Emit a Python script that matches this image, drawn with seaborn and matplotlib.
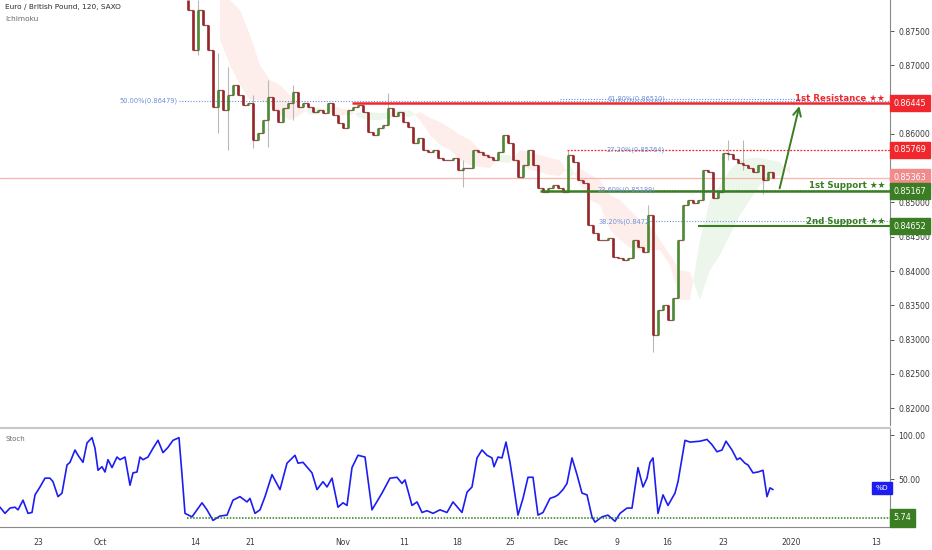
import matplotlib
matplotlib.use("Agg")
import matplotlib.pyplot as plt
import matplotlib.transforms as mtransforms
import numpy as np
import pandas as pd
import seaborn as sns

# ---- price (EUR/GBP 120 min, two samples per session) ----
FIRST_DAY = 18.8
STEP = 0.5
FIRST_OPEN = 0.8795
close = [
    0.8781, 0.8722, 0.8781, 0.8759, 0.8722, 0.8639, 0.8664, 0.8635, 0.8657, 0.8671,
    0.8657, 0.8642, 0.8645, 0.8591, 0.8601, 0.8620, 0.8654, 0.8635, 0.8617, 0.8638,
    0.8645, 0.8661, 0.8639, 0.8645, 0.8639, 0.8632, 0.8635, 0.8631, 0.8645, 0.8628,
    0.8616, 0.8609, 0.8635, 0.8639, 0.8642, 0.8632, 0.8603, 0.8598, 0.8609, 0.8613,
    0.8638, 0.8626, 0.8632, 0.8617, 0.8610, 0.8587, 0.8594, 0.8577, 0.8574, 0.8577,
    0.8565, 0.8562, 0.8562, 0.8565, 0.8547, 0.8550, 0.8550, 0.8577, 0.8574, 0.8569,
    0.8566, 0.8562, 0.8574, 0.8598, 0.8587, 0.8562, 0.8537, 0.8555, 0.8577, 0.8555,
    0.8521, 0.8515, 0.8521, 0.8526, 0.8521, 0.8515, 0.8569, 0.8559, 0.8533, 0.8528,
    0.8467, 0.8456, 0.8445, 0.8445, 0.8448, 0.8421, 0.8419, 0.8416, 0.8419, 0.8445,
    0.8435, 0.8428, 0.8482, 0.8307, 0.8343, 0.8351, 0.8329, 0.8361, 0.8445, 0.8496,
    0.8504, 0.8499, 0.8504, 0.8548, 0.8545, 0.8507, 0.8515, 0.8572, 0.8571, 0.8563,
    0.8558, 0.8555, 0.8550, 0.8544, 0.8555, 0.8533, 0.8544, 0.8536,
]

# notable wicks
wick_day = [19.8, 21.8, 22.8, 25.3, 26.8, 29.3, 38.8, 46.3, 56.8, 64.8, 65.3, 72.8, 74.3, 76.3]
wick_high = [0.8795, 0.8718, 0.8698, 0.8657, 0.8679, 0.8671, 0.8660, 0.8562, 0.8577, 0.8496, 0.8329, 0.8591, 0.8591, 0.8533]
wick_low = [0.8715, 0.8601, 0.8577, 0.8579, 0.8581, 0.8620, 0.8620, 0.8523, 0.8555, 0.8445, 0.8282, 0.8562, 0.8547, 0.8512]

# ichimoku cloud (senkou spans)
cloud_day = list(range(22, 80))
span_a = [
    0.87369, 0.87004, 0.86713, 0.86494, 0.86494, 0.86421, 0.86275, 0.86202, 0.86275, 0.86377,
    0.86377, 0.86319, 0.86275, 0.86275, 0.86319, 0.86319, 0.86304, 0.86319, 0.86348, 0.86348,
    0.86202, 0.85984, 0.85838, 0.85765, 0.85619, 0.85546, 0.85517, 0.85503, 0.85692, 0.85692,
    0.85546, 0.85473, 0.85444, 0.85401, 0.85386, 0.85546, 0.85255, 0.85036, 0.84963, 0.84598,
    0.84453, 0.84336, 0.84307, 0.84307, 0.84307, 0.84088, 0.83578, 0.83578, 0.84453, 0.85036,
    0.85255, 0.85473, 0.85619, 0.85648, 0.85648, 0.85619, 0.85590, 0.85401,
]
span_b = [
    0.87952, 0.87952, 0.87806, 0.87442, 0.87004, 0.86786, 0.86713, 0.86567, 0.86421, 0.86275,
    0.86290, 0.86421, 0.86377, 0.86348, 0.86232, 0.86202, 0.86202, 0.86232, 0.86261, 0.86246,
    0.86319, 0.86232, 0.86173, 0.86086, 0.85984, 0.85911, 0.85765, 0.85692, 0.85590, 0.85576,
    0.85765, 0.85736, 0.85692, 0.85648, 0.85619, 0.85357, 0.85503, 0.85401, 0.85328, 0.85109,
    0.85036, 0.84890, 0.84744, 0.84671, 0.84453, 0.84234, 0.84015, 0.83986, 0.83578, 0.84015,
    0.84234, 0.84526, 0.84817, 0.85036, 0.85255, 0.85328, 0.85401, 0.85546,
]

# ---- stochastic %D ----
stoch_day = [
    0.0, 0.5, 1.0, 1.5, 1.8, 2.3, 2.8, 3.2, 3.5, 4.0, 4.5, 5.0, 5.3, 5.8, 6.2, 6.7, 7.0, 7.5,
    7.8, 8.3, 8.7, 9.2, 9.5, 9.8, 10.2, 10.5, 10.8, 11.2, 11.7, 12.0, 12.5, 13.0, 13.3, 13.7,
    14.0, 14.3, 14.8, 15.3, 15.8, 16.3, 16.8, 17.3, 17.9, 18.2, 18.5, 19.2, 19.7, 20.2, 20.7,
    21.3, 22.0, 22.7, 23.3, 24.0, 24.7, 25.0, 25.5, 26.0, 26.5, 27.2, 28.0, 28.7, 29.5, 29.8,
    30.3, 31.2, 31.7, 32.3, 32.7, 33.2, 33.8, 34.3, 34.7, 35.2, 35.8, 36.5, 37.2, 38.2, 39.0,
    39.7, 40.2, 40.5, 41.2, 41.7, 42.2, 42.7, 43.3, 44.0, 44.7, 45.3, 46.2, 46.7, 47.2, 47.7,
    48.2, 48.7, 49.2, 49.4, 49.8, 50.2, 50.6, 51.0, 51.3, 51.8, 52.3, 52.8, 53.3, 53.8, 54.3,
    55.0, 55.5, 55.8, 56.3, 56.7, 57.2, 57.7, 58.2, 58.7, 59.2, 59.5, 60.2, 60.8, 61.5, 62.0,
    62.7, 63.2, 63.8, 64.3, 64.7, 65.0, 65.3, 65.8, 66.3, 66.8, 67.5, 67.8, 68.5, 69.0, 70.0,
    70.7, 71.2, 71.7, 72.2, 72.6, 73.2, 73.7, 74.0, 74.5, 74.8, 75.3, 75.8, 76.3, 76.7, 77.0,
    77.3,
]
stoch_d = [
    18, 11, 17, 18, 15, 26, 11, 12, 32, 41, 51, 51, 47, 30, 34, 66, 69, 83,
    77, 69, 91, 97, 85, 60, 64, 58, 72, 63, 75, 72, 75, 43, 57, 58,
    75, 72, 75, 85, 94, 80, 86, 94, 97, 55, 11, 7, 15, 23, 15,
    3, 8, 9, 26, 30, 24, 28, 11, 15, 30, 55, 38, 68, 77, 68,
    69, 57, 38, 47, 41, 51, 18, 23, 20, 63, 77, 75, 15, 34, 51,
    52, 45, 49, 20, 24, 12, 14, 11, 15, 12, 24, 12, 35, 41, 74,
    83, 77, 74, 64, 75, 74, 92, 69, 47, 9, 28, 52, 52, 9, 12,
    28, 30, 32, 38, 45, 74, 55, 34, 32, 7, 1, 7, 9, 2, 11,
    17, 17, 63, 41, 51, 69, 74, 11, 32, 20, 34, 47, 94, 92, 93,
    95, 89, 81, 83, 93, 83, 72, 74, 68, 66, 57, 58, 60, 30, 40,
    38,
]
STOCH_LOW = 5.74

tick_days = [3.8, 10.0, 19.5, 25.0, 34.3, 40.4, 45.7, 51.0, 56.1, 61.7, 66.7, 72.3, 79.1, 87.6]
tick_labels = ["23", "Oct", "14", "21", "Nov", "11", "18", "25", "Dec", "9", "16", "23", "2020", "13"]

# key levels
RESISTANCE = 0.86445
SUPPORT_1 = 0.85167
SUPPORT_2 = 0.84652
PREV_HIGH = 0.85769
LAST_PRICE = 0.85363

RED = "#f0282d"
GREEN = "#3a7d22"
FIB = "#6d8fd6"

sns.set_theme(style="white")
plt.rcParams["font.family"] = ["DejaVu Sans"]

fig = plt.figure(figsize=(9.32, 5.5), dpi=100)
ax = fig.add_axes([0, 125 / 550, 890 / 932, 425 / 550])
sax = fig.add_axes([0, 23 / 550, 890 / 932, 99 / 550])

XMAX = 89.0
ax.set_xlim(0, XMAX)
sax.set_xlim(0, XMAX)
ax.set_ylim(0.81756, 0.87952)
sax.set_ylim(-4.5, 108)

# cloud
ca = np.array(span_a)
cb = np.array(span_b)
ax.fill_between(cloud_day, ca, cb, where=ca >= cb, interpolate=True, color="#edf6eb", lw=0, zorder=1)
ax.fill_between(cloud_day, ca, cb, where=ca < cb, interpolate=True, color="#fdeeec", lw=0, zorder=1)

# candles
c = np.array(close)
o = np.r_[FIRST_OPEN, c[:-1]]
days = FIRST_DAY + STEP * np.arange(len(c))
candles = pd.DataFrame({"day": days, "open": o, "close": c})
candles["up"] = candles["close"] >= candles["open"]
ax.vlines(wick_day, wick_low, wick_high, color="#b8b8b8", lw=0.8, zorder=2)
ax.step(candles["day"], candles["close"], where="post", color="#7a2a26", lw=0.9, alpha=0.8, zorder=2)
ax.vlines(candles["day"], candles[["open", "close"]].min(axis=1), candles[["open", "close"]].max(axis=1),
          colors=np.where(candles["up"], "#4d8a35", "#96262a"), lw=1.9, zorder=3)

# levels
blend = mtransforms.blended_transform_factory(ax.transAxes, ax.transData)
ax.axhline(LAST_PRICE, color="#f7b5b0", lw=0.9, zorder=1)
ax.hlines(0.86479, 17.9, XMAX, color=FIB, lw=0.8, ls=(0, (1, 1.5)), zorder=2)
ax.hlines(0.86510, 56.0, 80.5, color=FIB, lw=0.8, ls=(0, (1, 1.5)), zorder=2)
ax.hlines(0.85189, 65.5, XMAX, color=FIB, lw=0.8, ls=(0, (1, 1.5)), zorder=2)
ax.hlines(0.84725, 65.0, XMAX, color=FIB, lw=0.8, ls=(0, (1, 1.5)), zorder=2)
ax.hlines(RESISTANCE, 35.2, XMAX, color=RED, lw=1.8, zorder=4)
ax.hlines(PREV_HIGH, 56.7, XMAX, color=RED, lw=0.9, ls=(0, (1.5, 1.2)), zorder=4)
ax.hlines(SUPPORT_1, 54.0, XMAX, color=GREEN, lw=1.8, zorder=4)
ax.hlines(SUPPORT_2, 69.8, XMAX, color=GREEN, lw=1.5, zorder=4)

fib_kw = dict(color=FIB, fontsize=4.8, va="center", ha="right", zorder=5)
ax.text(17.8, 0.86479, "50.00%(0.86479)", **fib_kw)
ax.text(66.5, 0.86510, "61.80%(0.86510)", **fib_kw)
ax.text(66.5, 0.85769, "27.20%(0.85764)", **fib_kw)
ax.text(65.5, 0.85189, "23.60%(0.85189)", **fib_kw)
ax.text(65.0, 0.84725, "38.20%(0.8472", **fib_kw)

lab_kw = dict(fontsize=6.2, fontweight="bold", ha="right", va="bottom", zorder=6)
ax.text(88.5, RESISTANCE + 0.0001, "1st Resistance ★★", color=RED, **lab_kw)
ax.text(88.5, SUPPORT_1 + 0.0001, "1st Support ★★", color=GREEN, **lab_kw)
ax.text(88.5, SUPPORT_2 + 0.0001, "2nd Support ★★", color=GREEN, **lab_kw)

ax.annotate("", xy=(80.0, RESISTANCE), xytext=(77.9, SUPPORT_1),
            arrowprops=dict(arrowstyle="->", color=GREEN, lw=1.4, mutation_scale=14), zorder=6)

# price axis
price_ticks = [0.82, 0.825, 0.83, 0.835, 0.84, 0.845, 0.85, 0.86, 0.87, 0.875]
ax.yaxis.tick_right()
ax.set_yticks(price_ticks)
ax.set_yticklabels([f"{t:.5f}" for t in price_ticks])
ax.tick_params(axis="y", labelsize=5.6, colors="#3a3a3a", length=3, width=0.6, pad=3)
ax.set_xticks([])
for side in ["left", "top", "bottom"]:
    ax.spines[side].set_visible(False)
ax.spines["right"].set_color("#8a8a8a")
ax.spines["right"].set_linewidth(0.8)

box_kw = dict(transform=blend, fontsize=5.8, color="white", va="center", ha="left", zorder=7)
for val, col in [(RESISTANCE, RED), (PREV_HIGH, RED), (LAST_PRICE, "#f28b8b"),
                 (SUPPORT_1, GREEN), (SUPPORT_2, GREEN)]:
    ax.text(1.004, val, f"{val:.5f}", bbox=dict(boxstyle="square,pad=0.45", fc=col, ec=col),
            clip_on=False, **box_kw)

fig.text(5 / 932, 1 - 7 / 550, "Euro / British Pound, 120, SAXO", fontsize=5.3, color="#2a2a2a", va="center")
fig.text(5 / 932, 1 - 19 / 550, "Ichimoku", fontsize=5.3, color="#6a6a6a", va="center")

# stochastic panel
stoch = pd.DataFrame({"day": stoch_day, "d": stoch_d})
sns.lineplot(data=stoch, x="day", y="d", ax=sax, color="#1d1df2", lw=1.2, legend=False)
sax.hlines(STOCH_LOW, 18.7, XMAX, color="#2f7a1f", lw=1.1, ls=(0, (1, 1)))
sax.set_xlabel("")
sax.set_ylabel("")
sax.yaxis.tick_right()
sax.set_yticks([50, 100])
sax.set_yticklabels(["50.00", "100.00"])
sax.tick_params(axis="y", labelsize=5.6, colors="#3a3a3a", length=3, width=0.6, pad=3)
sax.set_xticks(tick_days)
sax.set_xticklabels(tick_labels)
sax.tick_params(axis="x", labelsize=5.6, colors="#3a3a3a", length=0, pad=8)
sax.spines["left"].set_visible(False)
for side in ["top", "right", "bottom"]:
    sax.spines[side].set_color("#8a8a8a")
    sax.spines[side].set_linewidth(0.8)
sax.spines["top"].set_color("#c8c8c8")
sax.spines["top"].set_linewidth(1.5)

sblend = mtransforms.blended_transform_factory(sax.transAxes, sax.transData)
sax.text(1.004, STOCH_LOW, f"{STOCH_LOW:.2f}", transform=sblend, fontsize=5.8, color="white",
         va="center", ha="left", clip_on=False,
         bbox=dict(boxstyle="square,pad=0.5", fc=GREEN, ec=GREEN))
sax.text(0.998, 40, "%D", transform=sblend, fontsize=5.3, color="white", va="center", ha="right",
         bbox=dict(boxstyle="square,pad=0.45", fc="#1d1df2", ec="#1d1df2"))
sax.text(0.006, 95, "Stoch", transform=sblend, fontsize=5.0, color="#6a6a6a", va="center")

fig.savefig("out.png", dpi=100)
